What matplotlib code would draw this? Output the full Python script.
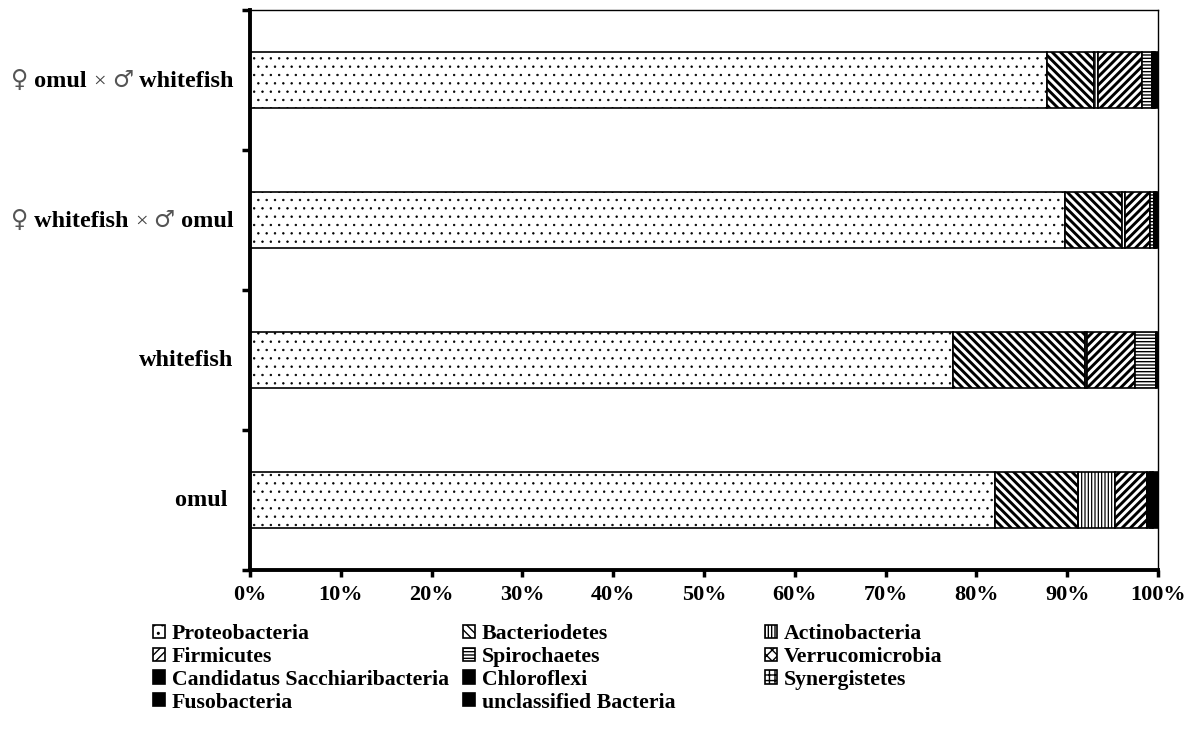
import matplotlib
matplotlib.use("Agg")
import matplotlib.pyplot as plt
from matplotlib.offsetbox import TextArea, HPacker, AnnotationBbox
import numpy as np

plt.rcParams['font.family'] = ['Liberation Serif', 'DejaVu Serif']
plt.rcParams['font.weight'] = 'bold'

# Groups, bottom to top; each label is split into text runs (symbols set lighter)
groups = ["omul", "whitefish", "\u2640 whitefish \u00d7 \u2642 omul", "\u2640 omul \u00d7 \u2642 whitefish"]
group_runs = [
    [("omul ", "b")],
    [("whitefish", "b")],
    [("\u2640", "s"), (" whitefish ", "b"), ("\u00d7", "x"), (" ", "b"), ("\u2642", "s"), (" omul", "b")],
    [("\u2640", "s"), (" omul ", "b"), ("\u00d7", "x"), (" ", "b"), ("\u2642", "s"), (" whitefish", "b")],
]

# Relative abundance (%) of each phylum per group
proteobacteria = [82.0, 77.4, 89.8, 87.8]
bacteriodetes = [9.2, 14.6, 6.2, 5.1]
actinobacteria = [4.1, 0.2, 0.4, 0.5]
firmicutes = [3.5, 5.3, 2.7, 4.8]
spirochaetes = [0.0, 2.3, 0.5, 1.1]
verrucomicrobia = [0.0, 0.0, 0.0, 0.0]
synergistetes = [0.0, 0.0, 0.0, 0.0]
candidatus_sacchiaribacteria = [0.3, 0.0, 0.1, 0.2]
chloroflexi = [0.2, 0.0, 0.1, 0.1]
fusobacteria = [0.2, 0.0, 0.0, 0.1]
unclassified_bacteria = [0.5, 0.2, 0.2, 0.3]

x_ticks = [0, 10, 20, 30, 40, 50, 60, 70, 80, 90, 100]

# name, values, face colour, hatch, hatch line width
series = [
    ("Proteobacteria", proteobacteria, "white", "..", 0.5),
    ("Bacteriodetes", bacteriodetes, "white", "\\\\\\\\", 2.1),
    ("Actinobacteria", actinobacteria, "white", "|||||", 0.9),
    ("Firmicutes", firmicutes, "white", "////", 2.1),
    ("Spirochaetes", spirochaetes, "white", "-----", 1.0),
    ("Verrucomicrobia", verrucomicrobia, "white", "xxx", 1.5),
    ("Synergistetes", synergistetes, "white", "+++", 1.0),
    ("Candidatus Sacchiaribacteria", candidatus_sacchiaribacteria, "black", "", 1.0),
    ("Chloroflexi", chloroflexi, "black", "", 1.0),
    ("Fusobacteria", fusobacteria, "black", "", 1.0),
    ("unclassified Bacteria", unclassified_bacteria, "black", "", 1.0),
]

fig = plt.figure(figsize=(11.97, 7.53), dpi=100)
ax = fig.add_axes([250 / 1197, 1 - 570 / 753, 908 / 1197, 560 / 753])

y = np.arange(len(groups)) + 0.5
left = np.zeros(len(groups))
handles = {}
for name, vals, fc, hatch, hlw in series:
    plt.rcParams['hatch.linewidth'] = hlw
    bars = ax.barh(y, vals, left=left, height=0.4, color=fc, edgecolor="black",
                   hatch=hatch, linewidth=1.2, label=name)
    handles[name] = bars
    left = left + np.array(vals)

ax.set_xlim(0, 100)
ax.set_ylim(0, 4)
ax.set_xticks(x_ticks)
ax.set_xticklabels([f"{t}%" for t in x_ticks], fontsize=16, fontweight="bold")
ax.tick_params(axis="x", direction="out", length=5, width=2.5, pad=6)

ax.set_yticks(np.arange(0, 5))
ax.set_yticklabels([])
ax.tick_params(axis="y", which="major", direction="out", length=6, width=2.5)

# Category labels built from mixed-style text runs
styles = {
    "b": dict(fontsize=17.5, fontweight="bold", color="black",
              fontfamily=["Liberation Serif", "DejaVu Serif"]),
    "s": dict(fontsize=17, fontweight="normal", color="#555555", fontfamily=["DejaVu Sans"]),
    "x": dict(fontsize=16, fontweight="normal", color="#444444", fontfamily=["Liberation Serif"]),
}
for yy, runs in zip(y, group_runs):
    box = HPacker(children=[TextArea(t, textprops=styles[s]) for t, s in runs],
                  align="baseline", pad=0, sep=0)
    ab = AnnotationBbox(box, (0, yy), xycoords=("axes fraction", "data"),
                        xybox=(-12, 0), boxcoords="offset points",
                        box_alignment=(1, 0.5), frameon=False, pad=0)
    ax.add_artist(ab)

ax.spines["left"].set_linewidth(2.8)
ax.spines["bottom"].set_linewidth(2.8)
ax.spines["top"].set_linewidth(1.0)
ax.spines["right"].set_linewidth(1.0)

# Legend laid out as three fixed columns
columns = [
    (153, ["Proteobacteria", "Firmicutes", "Candidatus Sacchiaribacteria", "Fusobacteria"]),
    (463, ["Bacteriodetes", "Spirochaetes", "Chloroflexi", "unclassified Bacteria"]),
    (765, ["Actinobacteria", "Verrucomicrobia", "Synergistetes"]),
]
for xpx, names in columns:
    plt.rcParams['hatch.linewidth'] = 1.0
    fig.legend([handles[n] for n in names], names, loc="upper left",
               bbox_to_anchor=(xpx / 1197, 1 - 624 / 753), ncol=1, frameon=False,
               prop={"size": 15.7, "weight": "bold"}, handlelength=0.55, handleheight=0.55,
               handletextpad=0.3, labelspacing=0.13, borderpad=0, borderaxespad=0)

fig.savefig("out.png", dpi=100)
